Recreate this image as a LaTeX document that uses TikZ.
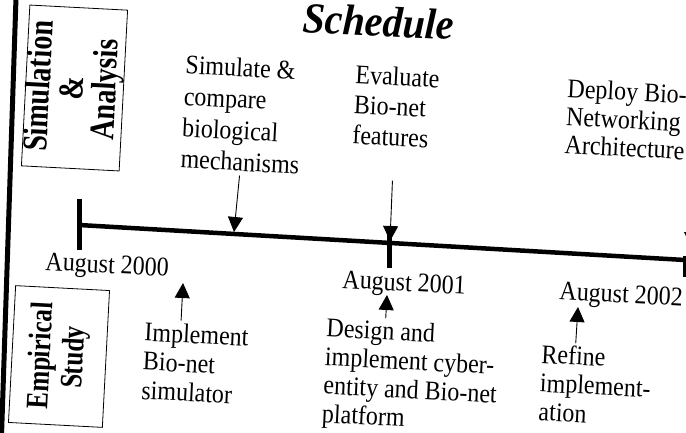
\documentclass[tikz,border=0pt]{standalone}
\usepackage{fontspec}
\setmainfont{Liberation Serif}
\usetikzlibrary{arrows.meta}

\begin{document}
\begin{tikzpicture}[line cap=round, line join=round, x=1pt, y=1pt,
  pointer/.style={-{Triangle[width=15pt,length=15pt]}, line width=0.9pt},
  txt/.style={font=\fontsize{24}{#1}\selectfont, align=left, inner sep=0pt, anchor=north west, rotate=-3, yscale=1.12, transform shape},
  txt/.default=26,
  date/.style={font=\fontsize{24}{26}\selectfont, inner sep=0pt, anchor=base west, rotate=-3, yscale=1.12, transform shape},
  phase/.style={draw, line width=0.8pt, align=center, inner sep=0pt, rotate=87, yscale=1.25, transform shape},
  tick/.style={line width=5pt, line cap=butt}]

\useasboundingbox (0,0) rectangle (686,-433);
\clip (0,0) rectangle (686,-433);

% frame bar on the left
\draw[line width=5pt, line cap=butt] (16,2) -- (1.5,-436);

% phase boxes
\node[phase, minimum width=161pt, font=\fontsize{28}{26.4}\selectfont\bfseries] (simbox) at (74.5,-88) {Simulation\\\&\\Analysis};
\node[phase, minimum width=137pt, minimum height=75.2pt, font=\fontsize{25}{26.4}\selectfont\bfseries] (empbox) at (59,-356.5) {Empirical\\Study};

\node[font=\fontsize{40}{44}\selectfont\bfseries\itshape, anchor=base west, inner sep=0pt, rotate=-3, yscale=1.08, transform shape] (title) at (302,-32) {Schedule};

% time line
\coordinate (t0) at (79,-225);
\coordinate (t3) at (690,-260.3);
\draw[line width=4.5pt, line cap=butt] (t0) -- (t3);
\draw[tick] (79.5,-199) -- (79.5,-250);
\draw[tick] (389.5,-230) -- (389.5,-268);
\draw[tick] (685.5,-256) -- (685.5,-277);

\node[date] (aug0) at (45,-270) {August 2000};
\node[date] (aug1) at (342,-288) {August 2001};
\node[date] (aug2) at (559,-299.5) {August 2002};

% tasks above the line
\node[txt=28] (sim) at (186,-55) {Simulate \&\\compare\\biological\\mechanisms};
\node[txt=27] (eval) at (356,-64.5) {Evaluate\\Bio-net\\features};
\node[txt=25] (deploy) at (568,-78.5) {Deploy Bio-\\Networking\\Architecture};

% tasks below the line
\node[txt] (impl) at (145,-322) {Implement\\Bio-net\\simulator};
\node[txt=25.5] (design) at (327,-318) {Design and\\implement cyber-\\entity and Bio-net\\platform};
\node[txt=25.5] (refine) at (542,-344) {Refine\\implement-\\ation};

\coordinate (d1) at (234,-232);
\coordinate (d2) at (390,-241);
\coordinate (d3) at (691.5,-247);
\coordinate (u1) at (183,-283);
\coordinate (u2) at (387,-295);
\coordinate (u3) at (578,-307);

\draw[pointer] ([yshift=-4.5pt]sim.south) -- (d1);
\draw[pointer] ([xshift=-1.5pt,yshift=-34.5pt]eval.south) -- (d2);
\draw[pointer] (deploy.south east -| d3) -- (d3);
\draw[pointer] ([xshift=-16pt,yshift=4.5pt]impl.north) -- (u1);
\draw[pointer] ([xshift=-28pt,yshift=4.5pt]design.north) -- (u2);
\draw[pointer] ([xshift=-21.7pt,yshift=3.9pt]refine.north) -- (u3);

\end{tikzpicture}
\end{document}
